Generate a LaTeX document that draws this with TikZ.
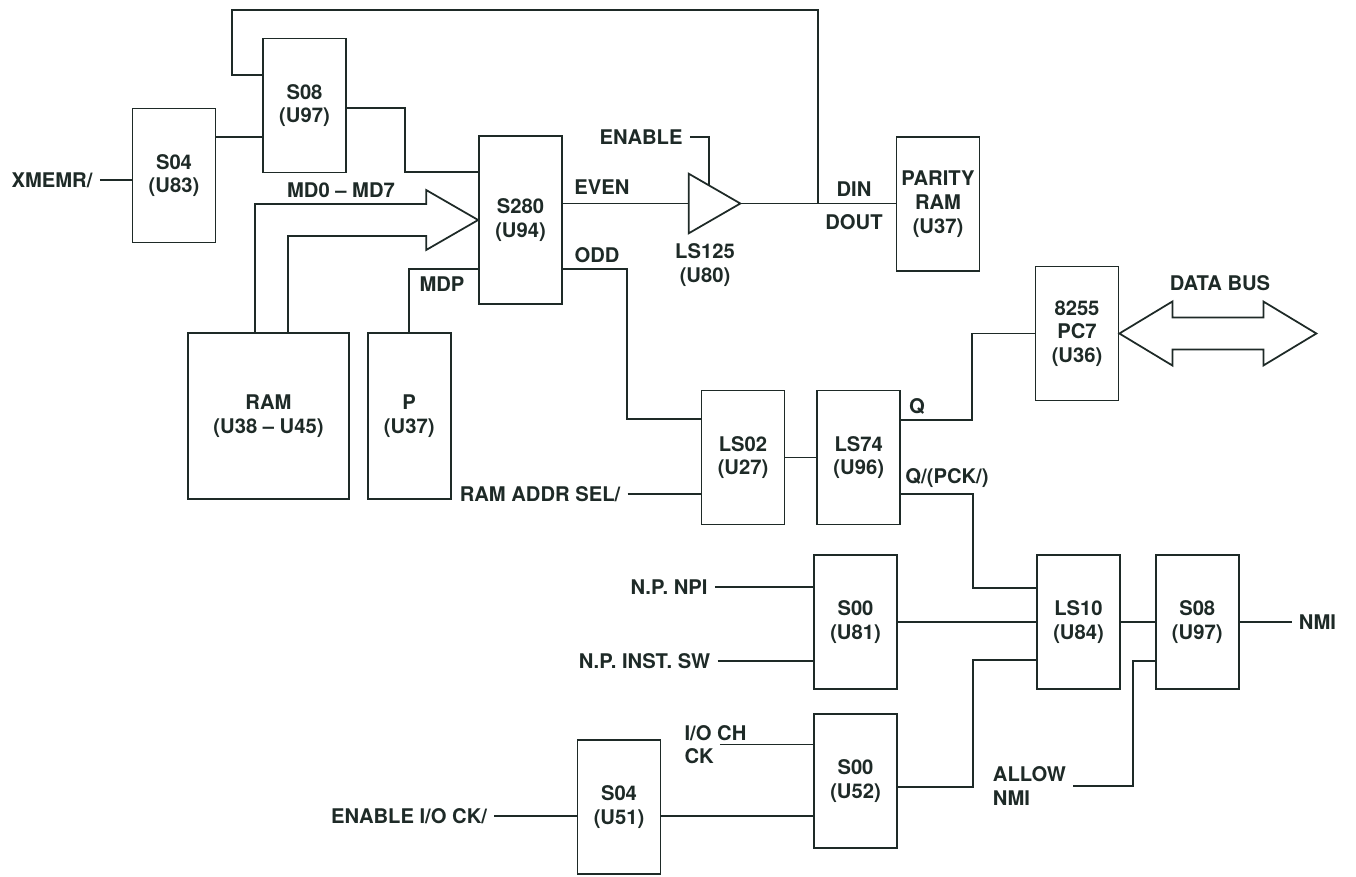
\documentclass[tikz,border=0pt]{standalone}
\usepackage{fontspec}
\setmainfont{TeX Gyre Heros}
\usetikzlibrary{positioning,calc}
\definecolor{ink}{HTML}{1E2A27}

\begin{document}
\begin{tikzpicture}[x=0.02cm,y=-0.02cm,
  every node/.style={font=\fontsize{11.5}{13.5}\selectfont\bfseries,text=ink},
  chip/.style={rectangle,draw=ink,line width=1pt,minimum width=1.66cm,minimum height=2.68cm,align=center,inner sep=1pt},
  sig/.style={inner sep=4pt,align=left},
  buf/.style={inner sep=0pt,minimum width=1.02cm,minimum height=1.18cm},
  wire/.style={draw=ink,line width=1pt},
  bus/.style={draw=ink,line width=1pt,line join=miter}]
  \useasboundingbox (0,0) rectangle (1356,876);

  % chips
  \node[chip] (u83) at (174,175.5) {S04\\(U83)};
  \node[chip] (u97a) at (304.5,105.5) {S08\\(U97)};
  \node[chip,minimum height=3.36cm] (u94) at (520.5,220) {S280\\(U94)};
  \node[buf] (buf) at (714.5,203.5) {};
  \node[chip] (pram) at (938,204) {PARITY\\RAM\\(U37)};
  \node[chip,minimum width=3.22cm,minimum height=3.32cm] (ram) at (268.5,416) {RAM\\(U38 – U45)};
  \node[chip,minimum height=3.32cm,right=0.34cm of ram] (p) {P\\(U37)};
  \node[chip] (u27) at (743,457.5) {LS02\\(U27)};
  \node[chip,right=0.62cm of u27] (u96) {LS74\\(U96)};
  \node[chip] (u36) at (1077,333.5) {8255\\PC7\\(U36)};
  \node[chip] (u81) at (855.5,622) {S00\\(U81)};
  \node[chip] (u84) at (1078.5,622) {LS10\\(U84)};
  \node[chip,right=0.68cm of u84] (u97b) {S08\\(U97)};
  \node[chip] (u52) at (855.5,781) {S00\\(U52)};
  \node[chip] (u51) at (619,807) {S04\\(U51)};

  % signal names
  \node[sig] (xmemr) at (52,180) {XMEMR/};
  \node[sig] (md) at (341,190) {MD0 – MD7};
  \node[sig] (mdp) at (442,284) {MDP};
  \node[sig] (enable) at (641,137) {ENABLE};
  \node[sig] (even) at (602,187) {EVEN};
  \node[sig] (odd) at (597,255) {ODD};
  \node[sig,align=center] (ls125) at (705,265) {LS125\\(U80)};
  \node[sig] (din) at (854,189) {DIN};
  \node[sig] (dout) at (854,222) {DOUT};
  \node[sig] (ras) at (540,494) {RAM ADDR SEL/};
  \node[sig] (q) at (917,406) {Q};
  \node[sig] (qn) at (947,478) {Q/(PCK/)};
  \node[sig] (dbus) at (1220,283) {DATA BUS};
  \node[sig] (npi) at (669,587) {N.P. NPI};
  \node[sig] (inst) at (644.5,661) {N.P. INST. SW};
  \node[sig] (iock) at (715.5,744.5) {I/O CH\\CK};
  \node[sig] (enio) at (409,816) {ENABLE I/O CK/};
  \node[sig] (allow) at (1029.5,786) {ALLOW\\NMI};
  \node[sig] (nmi) at (1317.5,622) {NMI};

  \coordinate (tap) at (buf.east -| 818,0);

  % top half
  \draw[wire] (xmemr.east) -- (xmemr.east -| u83.west);
  \draw[wire] (u83.east |- 0,137) -- (u97a.west |- 0,137);
  \draw[wire] (u97a.west |- 0,75) -- (232,75) |- (818,10) -- (tap);
  \draw[wire] (u97a.east |- 0,108) -| (405,172) -- (u94.west |- 0,172);
  \draw[bus] (ram.north -| 255,0) |- ($(u94.west)+(-52,-16)$) -- ++(0,-14) -- (u94.west)
    -- ++(-52,30) -- ++(0,-14) -| (ram.north -| 288,0);
  \draw[wire] (p.north) |- (u94.west |- 0,269);
  \draw[wire] (u94.east |- buf.west) -- (buf.west);
  \draw[wire] (buf.south west) -- (buf.north west) -- (buf.east) -- cycle;
  \draw[wire] (enable.east) -| ($(buf.north west)!.4!(buf.east)$);
  \draw[wire] (buf.east) -- (buf.east -| pram.west);
  \draw[wire] (u94.east |- 0,269) -| (627,419) -- (u27.west |- 0,419);

  % flip-flop and data bus
  \draw[wire] (ras.east) -- (ras.east -| u27.west);
  \draw[wire] (u27.east) -- (u96.west);
  \draw[wire] (u96.east |- 0,420) -| ($(u36.west)+(-63,0)$) -- (u36.west);
  \draw[wire] (u96.east |- 0,494) -| (973,588) -- (u84.west |- 0,588);
  \draw[bus] (u36.east) -- ++(53,-32) -- ++(0,16) -- ++(91,0) -- ++(0,-16) -- ++(53,32)
    -- ++(-53,32) -- ++(0,-16) -- ++(-91,0) -- ++(0,16) -- cycle;

  % NMI logic
  \draw[wire] (npi.east) -- (npi.east -| u81.west);
  \draw[wire] (inst.east) -- (inst.east -| u81.west);
  \draw[wire] (u81.east) -- (u84.west);
  \draw[wire] (u84.east) -- (u97b.west);
  \draw[wire] (u97b.east) -- (nmi.west);
  \draw[wire] (enio.east) -- (enio.east -| u51.west);
  \draw[wire] (u51.east |- 0,816) -- (u52.west |- 0,816);
  \draw[wire] ([xshift=-0.68cm]iock.east) -- (iock.east -| u52.west);
  \draw[wire] (u52.east |- 0,787) -| (973,660) -- (u84.west |- 0,660);
  \draw[wire] (allow.east) -| (1133,661) -- (u97b.west |- 0,661);
\end{tikzpicture}
\end{document}
